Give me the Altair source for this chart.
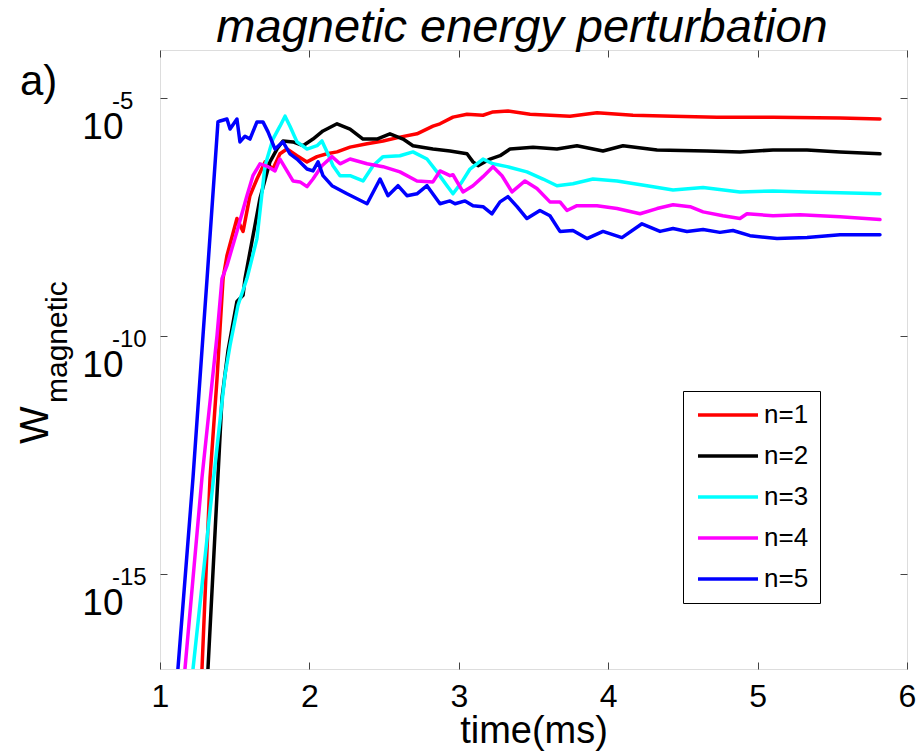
import altair as alt
import pandas as pd

FONT = "Liberation Sans"

modes = ["n=1", "n=2", "n=3", "n=4", "n=5"]
colors = ["#ff0000", "#000000", "#00ffff", "#ff00ff", "#0000ff"]

# time (ms) and log10(W_magnetic)
t_n1 = [1.281, 1.335, 1.382, 1.402, 1.422, 1.448, 1.515, 1.556, 1.602, 1.649, 1.703, 1.756, 1.803, 1.850,
        1.917, 1.984, 2.051, 2.118, 2.185, 2.272, 2.386, 2.493, 2.606, 2.720, 2.827, 2.874, 2.961, 3.055,
        3.162, 3.229, 3.329, 3.477, 3.744, 3.925, 4.166, 4.434, 4.728, 5.103, 5.552, 5.819]
lw_n1 = [-17.0, -12.98, -10.89, -9.84, -8.80, -8.32, -7.54, -7.81, -7.06, -6.71, -6.35, -6.50, -6.18, -6.08,
         -6.22, -6.35, -6.24, -6.18, -6.14, -6.04, -5.97, -5.91, -5.83, -5.76, -5.60, -5.55, -5.41, -5.35,
         -5.37, -5.30, -5.28, -5.35, -5.39, -5.32, -5.37, -5.39, -5.41, -5.41, -5.43, -5.45]

t_n2 = [1.321, 1.415, 1.455, 1.515, 1.556, 1.569, 1.669, 1.736, 1.783, 1.823, 1.890, 1.957, 2.024, 2.091,
        2.185, 2.272, 2.359, 2.452, 2.539, 2.627, 2.693, 2.827, 2.941, 3.055, 3.095, 3.129, 3.209, 3.276,
        3.343, 3.497, 3.657, 3.791, 3.965, 4.099, 4.327, 4.661, 4.882, 5.103, 5.331, 5.552, 5.819]
lw_n2 = [-17.0, -11.31, -10.32, -9.28, -9.15, -8.80, -7.12, -6.35, -6.08, -5.91, -5.93, -6.01, -5.87, -5.70,
         -5.55, -5.66, -5.87, -5.87, -5.76, -5.87, -6.01, -6.08, -6.12, -6.18, -6.35, -6.43, -6.29, -6.22,
         -6.08, -6.04, -6.08, -6.01, -6.12, -6.01, -6.10, -6.12, -6.14, -6.10, -6.10, -6.14, -6.18]

t_n3 = [1.221, 1.335, 1.435, 1.469, 1.522, 1.582, 1.649, 1.703, 1.756, 1.803, 1.837, 1.870, 1.917, 1.984,
        2.051, 2.084, 2.118, 2.158, 2.205, 2.272, 2.359, 2.426, 2.493, 2.606, 2.693, 2.787, 2.854, 2.921,
        2.961, 3.021, 3.075, 3.162, 3.229, 3.323, 3.456, 3.564, 3.657, 3.764, 3.898, 4.059, 4.260, 4.434,
        4.635, 4.882, 5.103, 5.331, 5.552, 5.819]
lw_n3 = [-17.0, -13.67, -10.83, -10.20, -9.36, -8.80, -7.96, -6.43, -5.87, -5.60, -5.39, -5.60, -5.93, -6.08,
         -6.01, -5.91, -6.14, -6.43, -6.64, -6.64, -6.75, -6.43, -6.24, -6.22, -6.14, -6.29, -6.56, -6.85,
         -7.02, -6.77, -6.50, -6.29, -6.39, -6.45, -6.56, -6.71, -6.85, -6.81, -6.71, -6.75, -6.85, -6.94,
         -6.89, -6.98, -6.96, -6.98, -7.00, -7.02]

t_n4 = [1.167, 1.281, 1.382, 1.415, 1.448, 1.515, 1.582, 1.622, 1.669, 1.723, 1.770, 1.803, 1.850, 1.890,
        1.937, 1.984, 2.024, 2.084, 2.151, 2.205, 2.272, 2.386, 2.493, 2.606, 2.720, 2.827, 2.874, 2.941,
        2.961, 3.028, 3.095, 3.162, 3.229, 3.289, 3.356, 3.443, 3.523, 3.610, 3.677, 3.724, 3.791, 3.925,
        4.059, 4.213, 4.327, 4.434, 4.548, 4.635, 4.768, 4.882, 4.929, 5.103, 5.284, 5.552, 5.819]
lw_n4 = [-17.0, -12.98, -9.99, -8.80, -8.53, -7.81, -7.06, -6.64, -6.39, -6.45, -6.54, -6.29, -6.54, -6.75,
         -6.77, -6.87, -6.71, -6.43, -6.24, -6.39, -6.29, -6.39, -6.45, -6.56, -6.75, -6.77, -6.54, -6.64,
         -6.62, -6.98, -6.85, -6.66, -6.45, -6.64, -6.98, -6.75, -6.91, -7.19, -7.19, -7.37, -7.27, -7.27,
         -7.33, -7.44, -7.33, -7.25, -7.29, -7.40, -7.48, -7.54, -7.44, -7.48, -7.46, -7.50, -7.56]

t_n5 = [1.120, 1.221, 1.288, 1.315, 1.388, 1.402, 1.448, 1.469, 1.515, 1.535, 1.569, 1.602, 1.649, 1.689,
        1.723, 1.770, 1.823, 1.870, 1.917, 1.984, 2.024, 2.058, 2.091, 2.151, 2.252, 2.386, 2.473, 2.526,
        2.593, 2.653, 2.720, 2.787, 2.874, 2.941, 2.975, 3.042, 3.095, 3.162, 3.222, 3.276, 3.329, 3.390,
        3.456, 3.543, 3.610, 3.677, 3.764, 3.858, 3.965, 4.092, 4.226, 4.347, 4.434, 4.527, 4.635, 4.748,
        4.835, 4.949, 5.130, 5.331, 5.552, 5.819]
lw_n5 = [-17.0, -12.98, -9.99, -8.80, -5.51, -5.49, -5.45, -5.66, -5.45, -5.93, -5.81, -5.87, -5.51, -5.51,
         -5.72, -6.08, -5.93, -6.18, -6.29, -6.50, -6.54, -6.35, -6.64, -6.85, -7.02, -7.23, -6.71, -7.06,
         -6.85, -7.06, -7.02, -6.85, -7.23, -7.17, -7.23, -7.17, -7.27, -7.29, -7.44, -7.19, -7.08, -7.29,
         -7.54, -7.37, -7.48, -7.81, -7.79, -7.96, -7.81, -7.94, -7.65, -7.81, -7.75, -7.81, -7.77, -7.83,
         -7.79, -7.90, -7.96, -7.94, -7.88, -7.88]

y_ticks = [1e-15, 1e-10, 1e-5]
y_exponents = ["-15", "-10", "-5"]
x_ticks = [1, 2, 3, 4, 5, 6]

series = [(modes[0], t_n1, lw_n1), (modes[1], t_n2, lw_n2), (modes[2], t_n3, lw_n3),
          (modes[3], t_n4, lw_n4), (modes[4], t_n5, lw_n5)]
rows = []
for name, ts, ls in series:
    for i, (t, l) in enumerate(zip(ts, ls)):
        rows.append({"time": t, "W": 10 ** l, "mode": name, "i": i})
df = pd.DataFrame(rows)

xscale = alt.Scale(domain=[1, 6], nice=False, zero=False)
yscale = alt.Scale(type="log", domain=[1e-17, 1e-4], nice=False)

x_bottom = alt.Axis(values=x_ticks, format="d", domain=False, grid=False, offset=-7, tickSize=7,
                    tickColor="#444", tickWidth=1, labelFont=FONT, labelFontSize=32, labelColor="black",
                    labelPadding=12, labelFlush=False, labelOverlap=False,
                    title="time(ms)", titleFont=FONT, titleFontSize=38, titleFontWeight="normal",
                    titleColor="black", titleBaseline="alphabetic", titleY=80)
y_left = alt.Axis(values=y_ticks, labelExpr="'10'", domain=False, grid=False, offset=-7, tickSize=7,
                  tickColor="#444", tickWidth=1, labelFont=FONT, labelFontSize=37, labelColor="black",
                  labelAlign="right", labelBaseline="top", labelOffset=12, labelPadding=37, title=None)
x_top = alt.Axis(values=x_ticks, orient="top", domain=False, grid=False, offset=-7, tickSize=7,
                 tickColor="#444", tickWidth=1, labels=False, title=None)
y_right = alt.Axis(values=y_ticks, orient="right", domain=False, grid=False, offset=-7, tickSize=7,
                   tickColor="#444", tickWidth=1, labels=False, title=None)

lines = alt.Chart(df).mark_line(strokeWidth=3.5, strokeJoin="round", strokeCap="round", clip=True).encode(
    x=alt.X("time:Q", scale=xscale, axis=x_bottom),
    y=alt.Y("W:Q", scale=yscale, axis=y_left),
    color=alt.Color("mode:N", scale=alt.Scale(domain=modes, range=colors),
                    legend=alt.Legend(title=None, orient="none", legendX=523, legendY=341,
                                      symbolType="M-3,0H3", symbolSize=400, symbolStrokeWidth=3.5,
                                      symbolOffset=21, labelOffset=23, padding=11, rowPadding=15,
                                      labelFont=FONT, labelFontSize=26, labelColor="black",
                                      strokeColor="black", fillColor="white")),
    order="i:Q",
)

frame_ticks = alt.Chart(df).mark_line(opacity=0).encode(
    x=alt.X("time:Q", scale=xscale, axis=x_top),
    y=alt.Y("W:Q", scale=yscale, axis=y_right),
    detail="mode:N",
)

exp_df = pd.DataFrame({"W": y_ticks, "e": y_exponents})
exponents = alt.Chart(exp_df).mark_text(align="left", baseline="middle", dy=4, font=FONT, fontSize=24,
                                        color="black").encode(
    y=alt.Y("W:Q", scale=yscale, axis=None),
    x=alt.value(-48),
    text="e:N",
)

title_txt = alt.Chart(pd.DataFrame({"s": ["magnetic energy perturbation"]})).mark_text(
    align="center", baseline="alphabetic", font=FONT, fontSize=47, fontStyle="italic",
    color="black").encode(text="s:N", x=alt.value(362), y=alt.value(-8))

panel = alt.Chart(pd.DataFrame({"s": ["a)"]})).mark_text(
    align="left", baseline="alphabetic", font=FONT, fontSize=42, color="black").encode(
    text="s:N", x=alt.value(-140), y=alt.value(45))

w_main = alt.Chart(pd.DataFrame({"s": ["W"]})).mark_text(
    align="center", baseline="alphabetic", angle=270, font=FONT, fontSize=40, color="black").encode(
    text="s:N", x=alt.value(-112), y=alt.value(375))

w_sub = alt.Chart(pd.DataFrame({"s": ["magnetic"]})).mark_text(
    align="left", baseline="alphabetic", angle=270, font=FONT, fontSize=30, color="black").encode(
    text="s:N", x=alt.value(-93), y=alt.value(353))

chart = alt.layer(lines, frame_ticks, exponents, title_txt, panel, w_main, w_sub).resolve_axis(
    x="independent", y="independent"
).properties(
    width=747, height=619,
    padding={"left": 160, "top": 50, "right": 10, "bottom": 82},
    autosize=alt.AutoSizeParams(type="none"),
).configure_view(stroke="black", strokeWidth=2).configure(background="white")

chart.save("out.html", embed_options={"renderer": "svg", "actions": False})
